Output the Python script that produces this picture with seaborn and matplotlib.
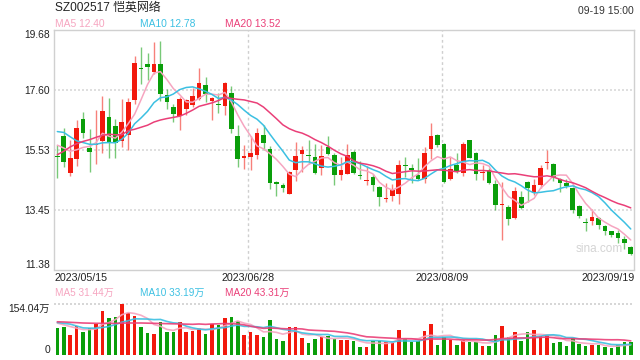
import numpy as np
import pandas as pd
import matplotlib
matplotlib.use("Agg")
import matplotlib.pyplot as plt
import seaborn as sns

# ---------------- data ----------------
open_ = [15.31, 16.01, 14.71, 15.19, 16.60, 15.59, 15.69, 15.81, 16.67, 16.36,
         15.81, 16.04, 17.23, 18.33, 18.50, 18.20, 18.50, 17.40, 17.00, 16.69,
         16.94, 17.06, 17.29, 17.77, 17.20, 17.10, 17.02, 17.50, 16.01, 15.23,
         15.26, 15.35, 16.03, 15.56, 14.41, 14.31, 13.98, 14.83, 15.36, 15.35,
         15.28, 14.89, 15.61, 15.35, 14.64, 14.70, 15.46, 14.63, 14.44, 14.59,
         14.25, 13.84, 13.91, 14.00, 15.01, 14.89, 14.66, 14.52, 15.56, 16.04,
         15.73, 14.50, 15.01, 14.73, 15.87, 15.42, 14.72, 14.81, 14.34, 13.63,
         13.54, 13.16, 13.89, 14.41, 14.03, 14.29, 15.06, 15.04, 14.50, 14.38,
         14.21, 13.59, 13.01, 13.06, 13.16, 12.89, 12.70, 12.65, 12.42, 12.16]
close = [15.28, 15.09, 15.25, 16.29, 16.10, 15.46, 15.73, 16.87, 15.79, 15.76,
         16.49, 17.19, 18.53, 18.31, 18.37, 18.47, 17.44, 17.17, 16.75, 17.29,
         17.23, 17.39, 17.84, 17.46, 17.30, 17.08, 17.84, 16.23, 15.19, 15.32,
         15.42, 16.10, 15.74, 14.36, 14.33, 14.20, 14.75, 15.32, 15.53, 15.29,
         14.73, 15.32, 15.39, 14.64, 14.83, 15.33, 14.73, 14.61, 14.46, 14.29,
         13.88, 13.86, 14.14, 14.98, 14.96, 14.81, 14.52, 15.42, 15.98, 15.68,
         14.41, 14.87, 14.78, 15.73, 15.25, 14.70, 14.75, 14.36, 13.62, 13.66,
         13.14, 14.08, 13.49, 14.20, 14.29, 14.90, 15.09, 14.58, 14.38, 14.26,
         13.45, 13.24, 12.99, 13.20, 12.93, 12.72, 12.59, 12.48, 12.29, 11.92]
high = [15.67, 16.29, 15.85, 16.56, 16.81, 16.25, 16.91, 17.38, 17.30, 16.60,
        17.29, 17.31, 18.77, 19.08, 18.88, 19.25, 19.28, 17.63, 17.12, 17.35,
        17.29, 17.66, 18.35, 18.04, 17.35, 17.49, 17.87, 17.73, 16.37, 15.68,
        15.99, 16.29, 16.39, 15.65, 14.43, 14.38, 14.77, 15.79, 15.65, 15.87,
        15.73, 15.70, 16.00, 15.40, 15.27, 15.73, 15.50, 15.12, 14.95, 14.68,
        14.26, 14.38, 14.34, 15.15, 15.27, 15.04, 15.25, 15.62, 16.46, 16.07,
        15.76, 15.27, 15.42, 15.79, 15.87, 15.44, 14.98, 14.89, 14.46, 14.41,
        13.62, 14.23, 14.08, 14.43, 14.50, 15.01, 15.53, 15.06, 14.55, 14.52,
        14.23, 13.60, 13.16, 13.47, 13.18, 12.91, 12.72, 12.75, 12.54, 12.18]
low = [14.56, 14.91, 14.60, 14.96, 15.92, 14.75, 15.04, 15.41, 15.24, 15.23,
       15.62, 15.53, 17.09, 17.81, 17.95, 18.13, 17.21, 16.92, 16.48, 16.22,
       16.74, 17.00, 17.23, 17.17, 16.56, 16.79, 16.71, 16.09, 14.94, 14.85,
       14.81, 15.19, 15.50, 14.18, 13.92, 14.06, 13.98, 14.44, 14.75, 15.04,
       14.67, 14.64, 15.33, 14.31, 14.46, 14.67, 14.70, 14.50, 14.29, 14.10,
       13.57, 13.72, 13.75, 13.66, 14.58, 14.37, 14.46, 14.38, 15.21, 15.61,
       14.38, 14.48, 14.73, 14.61, 15.24, 14.46, 14.46, 14.35, 13.43, 12.41,
       12.93, 13.14, 13.46, 13.72, 13.95, 14.20, 14.85, 14.43, 14.06, 14.20,
       13.34, 13.16, 12.70, 12.93, 12.79, 12.59, 12.49, 12.30, 12.10, 11.87]
volume = [81.5, 84.6, 61.3, 88.5, 70.4, 81.5, 94.5, 131.7, 112.6, 115.7,
          154.04, 126.8, 118.7, 85.5, 67.3, 64.3, 100.6, 71.3, 70.4, 100.6,
          71.3, 73.4, 81.5, 65.2, 94.5, 91.5, 112.6, 115.7, 101.5, 61.3,
          71.3, 61.3, 56.2, 106.6, 49.2, 44.1, 85.5, 85.5, 53.2, 38.1,
          49.2, 56.2, 58.3, 49.2, 46.2, 46.2, 44.1, 25.1, 25.1, 43.2,
          43.2, 41.1, 38.1, 76.4, 50.1, 41.1, 43.2, 73.4, 94.5, 31.1,
          54.4, 46.2, 31.1, 46.2, 41.1, 41.1, 28.1, 28.1, 61.3, 88.5,
          54.4, 70.4, 43.2, 68.5, 74.6, 57.4, 60.4, 37.1, 40.2, 28.1,
          51.3, 33.1, 28.1, 31.1, 31.1, 23.5, 21.5, 30.5, 40.5, 41.2]

# moving-average values at the start of the window (they depend on earlier days)
ma5_head = [15.68, 15.58, 15.47, 15.52]
ma10_head = [16.15, 16.12, 15.97, 15.83, 15.77, 15.71, 15.71, 15.76, 15.77]
ma20_head = [15.35, 15.47, 15.62, 15.73, 15.81, 15.87, 15.95, 16.02, 16.06, 16.04,
             16.04, 16.18, 16.23, 16.30, 16.37, 16.48, 16.55, 16.60, 16.64]
vma5_head = [96.6, 91.5, 86.4, 81.5]
vma10_head = [98.5, 96.0, 93.6, 88.0, 82.4, 81.5, 81.5, 83.5, 86.4]
vma20_head = [100.6, 100.0, 99.0, 98.0, 97.0, 96.5, 96.0, 96.0, 96.0, 96.0,
              96.5, 97.0, 97.0, 97.0, 96.5, 96.0, 95.5, 95.0, 94.5]

tick_labels = ["2023/05/15", "2023/06/28", "2023/08/09", "2023/09/19"]
tick_index = [0, 30, 60, 89]
price_ticks = [19.68, 17.60, 15.53, 13.45, 11.38]
vol_max = 154.04

title = "SZ002517 恺英网络"
time_label = "09-19 15:00"
ma_labels = ["MA5 12.40", "MA10 12.78", "MA20 13.52"]
vma_labels = ["MA5 31.44万", "MA10 33.19万", "MA20 43.31万"]

# ---------------- styling ----------------
sns.set_theme(style="white")
plt.rcParams['font.family'] = ['Liberation Sans', 'Noto Sans CJK SC', 'DejaVu Sans']

UP, DOWN = '#f2190d', '#0a9e0a'
C5, C10, C20 = '#f6a5c0', '#3cc0e2', '#ea3f78'
ma_colors = [C5, C10, C20]

n = len(close)
df = pd.DataFrame(dict(x=np.arange(n), open=open_, high=high, low=low,
                       close=close, vol=volume))
colors = np.where(df.close >= df.open, UP, DOWN)


def ma(series, w, head):
    m = series.rolling(w).mean()
    m.iloc[:len(head)] = head
    return m


df['ma5'] = ma(df.close, 5, ma5_head)
df['ma10'] = ma(df.close, 10, ma10_head)
df['ma20'] = ma(df.close, 20, ma20_head)
df['vma5'] = ma(df.vol, 5, vma5_head)
df['vma10'] = ma(df.vol, 10, vma10_head)
df['vma20'] = ma(df.vol, 20, vma20_head)

W, H = 640, 360
fig = plt.figure(figsize=(6.4, 3.6), dpi=100)
ax = fig.add_axes([54.3 / W, 90.5 / H, 580 / W, 240 / H])
axv = fig.add_axes([54.3 / W, 4.7 / H, 580 / W, 51.3 / H])

xlim = (-0.47, 89.55)

# ---- price panel ----
body = np.abs(df.close - df.open)
body_h = np.maximum(body, 0.035)
body_b = np.minimum(df.open, df.close) - (body_h - body) / 2
ax.vlines(df.x, df.low, df.high, colors=colors, lw=1.0, alpha=0.55, zorder=2)
ax.bar(df.x, body_h, bottom=body_b, width=0.72, color=colors, linewidth=0, zorder=3)
for col, c in zip(['ma5', 'ma10', 'ma20'], ma_colors):
    sns.lineplot(data=df, x='x', y=col, ax=ax, color=c, lw=1.1, zorder=4, legend=False)

ax.set_xlim(*xlim)
ax.set_ylim(price_ticks[-1], price_ticks[0])
for yv in price_ticks[1:-1]:
    ax.axhline(yv, color='#d9d9d9', lw=1.2, ls=(0, (1.2, 1.2)), zorder=1)
for xi in tick_index[1:-1]:
    ax.axvline(xi - 0.35, color='#cfcfcf', lw=1.0, ls=(0, (2, 2)), zorder=1)
for s in ax.spines.values():
    s.set_color('#d0d0d0')
    s.set_linewidth(1.0)
    s.set_visible(True)
ax.set_xlabel('')
ax.set_ylabel('')
ax.set_xticks([])
ax.set_yticks(price_ticks)
ax.set_yticklabels([f"{v:.2f}" for v in price_ticks])
ax.tick_params(axis='y', length=0, pad=3, labelsize=7.4, labelcolor='#222222')
ylabs = ax.get_yticklabels()
ylabs[0].set_va('top')
ylabs[-1].set_va('bottom')

# date labels under the price panel
from matplotlib.transforms import blended_transform_factory
tr = blended_transform_factory(ax.transData, fig.transFigure)
for i, (lab, xi) in enumerate(zip(tick_labels, tick_index)):
    if i == 0:
        xp, ha = xlim[0], 'left'
    elif i == len(tick_labels) - 1:
        xp, ha = xlim[1], 'right'
    else:
        xp, ha = xi - 0.35, 'center'
    ax.text(xp, 1 - 278 / H, lab, transform=tr, ha=ha, va='center',
            fontsize=7.7, color='#222222')

ax.text(0.94, 0.085, 'sina.com', transform=ax.transAxes, ha='center', va='center',
        fontsize=8.5, color='#d4d4d4', zorder=0)

# ---- volume panel ----
axv.bar(df.x, df.vol, width=0.55, color=colors, linewidth=0, zorder=2)
for col, c in zip(['vma5', 'vma10', 'vma20'], ma_colors):
    sns.lineplot(data=df, x='x', y=col, ax=axv, color=c, lw=1.2, alpha=0.9,
                 zorder=3, legend=False)
axv.set_xlim(*xlim)
axv.set_ylim(0, vol_max)
axv.axhline(vol_max, color='#d0d0d0', lw=1.2, ls=(0, (1.2, 1.2)), clip_on=False, zorder=1)
for xi in tick_index[1:-1]:
    axv.axvline(xi - 0.35, color='#cfcfcf', lw=1.0, ls=(0, (2, 2)), zorder=1)
for s in axv.spines.values():
    s.set_visible(False)
axv.set_xlabel('')
axv.set_ylabel('')
axv.set_xticks([])
axv.set_yticks([vol_max, 0])
axv.set_yticklabels([f"{vol_max:.2f}万", "0"])
axv.tick_params(axis='y', length=0, pad=3, labelsize=7.4, labelcolor='#222222')
vl = axv.get_yticklabels()
vl[0].set_va('top')
vl[1].set_va('bottom')

# ---- header texts ----
fig.text(55 / W, 1 - 8 / H, title, ha='left', va='center', fontsize=8.6, color='#222222')
fig.text(634 / W, 1 - 10.5 / H, time_label, ha='right', va='center', fontsize=7.5,
         color='#333333')
for xp, lab, c in zip([55, 140.5, 225], ma_labels, ma_colors):
    fig.text(xp / W, 1 - 24 / H, lab, ha='left', va='center', fontsize=7.4, color=c)
for xp, lab, c in zip([55, 140, 225], vma_labels, ma_colors):
    fig.text(xp / W, 1 - 293 / H, lab, ha='left', va='center', fontsize=7.2, color=c)

fig.savefig('out.png', dpi=100)
